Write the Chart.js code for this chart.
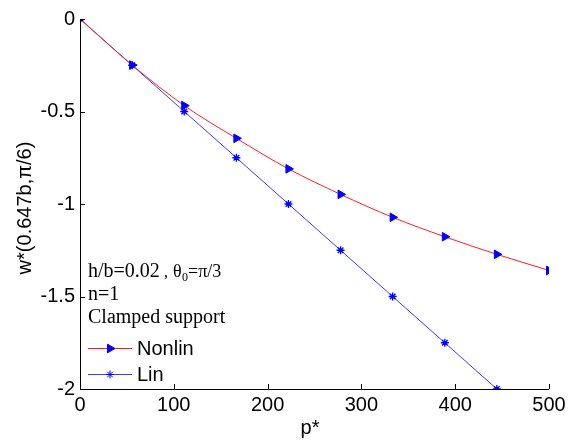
<!DOCTYPE html>
<html>
<head>
<meta charset="utf-8">
<script src="https://cdn.jsdelivr.net/npm/chart.js@4/dist/chart.umd.min.js"></script>
<style>
  html, body { margin: 0; padding: 0; background: #fff; }
  canvas { display: block; }
</style>
</head>
<body>
<canvas id="plot" width="570" height="440"></canvas>
<script>
// load parameter p* and deflection w* at (0.647b, pi/6)
var pNonlin = [0, 55.6, 111.1, 166.7, 222.2, 277.8, 333.3, 388.9, 444.4, 500];
var wNonlin = [0, -0.249, -0.468, -0.645, -0.81, -0.948, -1.072, -1.177, -1.272, -1.359];
var pLin = [0, 55.6, 111.1, 166.7, 222.2, 277.8, 333.3, 388.9, 444.4];
var wLin = [0, -0.25, -0.5, -0.75, -1, -1.25, -1.5, -1.75, -2];

var xTicks = [0, 100, 200, 300, 400, 500];
var yTicks = [0, -0.5, -1, -1.5, -2];

var legendNames = ['Nonlin', 'Lin'];

var sans = 'Arial, "Liberation Sans", sans-serif';
var serif = '"Times New Roman", "Liberation Serif", serif';

function pts(xs, ys) {
    return xs.map((x, i) => ({ x: x, y: ys[i] }));
}

// matlab style: only left/bottom axes, tick marks pointing inward
var axesPlugin = {
    id: 'axesPlugin',
    afterDraw(chart) {
        let ctx = chart.ctx;
        let xs = chart.scales.x, ys = chart.scales.y;
        let a = chart.chartArea;
        ctx.save();
        ctx.strokeStyle = '#000';
        ctx.lineWidth = 1;
        ctx.beginPath();
        ctx.moveTo(a.left + 0.5, a.top);
        ctx.lineTo(a.left + 0.5, a.bottom + 0.5);
        ctx.lineTo(a.right, a.bottom + 0.5);
        yTicks.forEach(v => {
            let y = Math.round(ys.getPixelForValue(v)) + 0.5;
            ctx.moveTo(a.left, y);
            ctx.lineTo(a.left + 5, y);
        });
        xTicks.forEach(v => {
            let x = Math.round(xs.getPixelForValue(v)) + 0.5;
            ctx.moveTo(x, a.bottom);
            ctx.lineTo(x, a.bottom - 5);
        });
        ctx.stroke();

        // axis titles
        ctx.fillStyle = '#000';
        ctx.font = '20px ' + sans;
        ctx.textAlign = 'center';
        ctx.textBaseline = 'alphabetic';
        ctx.fillText('p*', 310, 434);
        ctx.save();
        ctx.translate(25, (a.top + a.bottom) / 2 + 4);
        ctx.rotate(-Math.PI / 2);
        ctx.textBaseline = 'middle';
        ctx.fillText('w*(0.647b,\u03C0/6)', 0, 0);
        ctx.restore();

        // parameter text
        ctx.textAlign = 'left';
        ctx.textBaseline = 'alphabetic';
        ctx.font = '20px ' + serif;
        let x0 = a.left + 8;
        ctx.fillText('h/b=0.02', x0, 277);
        ctx.font = '16px ' + serif;
        ctx.fillText(',', x0 + 76, 277);
        ctx.font = '18px ' + serif;
        ctx.fillText('\u03B8', x0 + 85, 277);
        ctx.font = '12px ' + serif;
        ctx.fillText('0', x0 + 94, 281);
        ctx.font = '18px ' + serif;
        ctx.fillText('=\u03C0/3', x0 + 100, 277);
        ctx.font = '20px ' + serif;
        ctx.fillText('n=1', x0, 300);
        ctx.fillText('Clamped support', x0, 323);

        // legend
        chart.data.datasets.forEach((ds, i) => {
            let y = 348 + i * 26;
            ctx.strokeStyle = ds.borderColor;
            ctx.lineWidth = 1;
            ctx.beginPath();
            ctx.moveTo(x0, y + 0.5);
            ctx.lineTo(x0 + 44, y + 0.5);
            ctx.stroke();
            ctx.strokeStyle = ds.pointBorderColor;
            ctx.fillStyle = ds.pointBackgroundColor;
            Chart.helpers.drawPoint(ctx, {
                pointStyle: ds.pointStyle,
                rotation: ds.pointRotation || 0,
                radius: ds.pointRadius,
                borderWidth: ds.pointBorderWidth
            }, x0 + 22, y + 0.5);
            ctx.fillStyle = '#000';
            ctx.font = '20px ' + sans;
            ctx.textBaseline = 'middle';
            ctx.fillText(legendNames[i], x0 + 49, y + 1);
        });
        ctx.restore();
    }
};

new Chart(document.getElementById('plot'), {
    type: 'scatter',
    data: {
        datasets: [{
            label: legendNames[0],
            data: pts(pNonlin, wNonlin),
            showLine: true,
            borderColor: 'rgb(255, 30, 30)',
            borderWidth: 1,
            cubicInterpolationMode: 'monotone',
            pointStyle: 'triangle',
            pointRotation: 90,
            pointRadius: 5,
            pointBorderWidth: 1,
            pointBackgroundColor: 'rgb(0, 0, 255)',
            pointBorderColor: 'rgb(0, 0, 255)'
        }, {
            label: legendNames[1],
            data: pts(pLin, wLin),
            showLine: true,
            borderColor: 'rgb(60, 60, 255)',
            borderWidth: 1,
            pointStyle: 'star',
            pointRadius: 4,
            pointBorderWidth: 1.3,
            pointBackgroundColor: 'rgb(0, 0, 255)',
            pointBorderColor: 'rgb(0, 0, 255)'
        }]
    },
    options: {
        responsive: false,
        animation: { duration: 0 },
        layout: { padding: { left: 0, top: 19, right: 21, bottom: 0 } },
        plugins: { legend: { display: false }, tooltip: { enabled: false } },
        scales: {
            x: {
                type: 'linear',
                min: 0,
                max: 500,
                afterFit: s => { s.height = 51; },
                afterBuildTicks: s => { s.ticks = xTicks.map(v => ({ value: v })); },
                grid: { display: false, drawTicks: false },
                border: { display: false },
                ticks: { color: '#000', font: { family: sans, size: 20 }, padding: 4 }
            },
            y: {
                type: 'linear',
                min: -2,
                max: 0,
                afterFit: s => { s.width = 80; },
                afterBuildTicks: s => { s.ticks = yTicks.map(v => ({ value: v })); },
                grid: { display: false, drawTicks: false },
                border: { display: false },
                ticks: {
                    color: '#000',
                    font: { family: sans, size: 20 },
                    padding: 5,
                    callback: v => String(v)
                }
            }
        }
    },
    plugins: [axesPlugin]
});
</script>
</body>
</html>
